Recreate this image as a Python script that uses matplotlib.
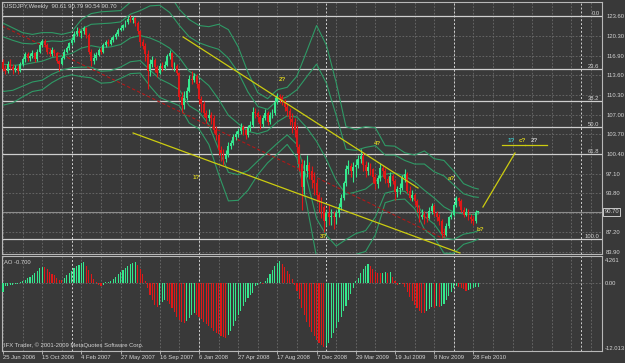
import numpy as np
import matplotlib.pyplot as plt
from matplotlib.transforms import blended_transform_factory

plt.rcParams['font.family'] = ['Liberation Sans', 'DejaVu Sans']

# USDJPY weekly bars, first bar = week of 25 Jun 2006
opens = [115.8, 114.7, 114.3, 115.6, 115.0, 114.5, 114.9, 114.4, 115.6, 116.3,
         117.2, 116.5, 116.9, 117.3, 116.3, 117.6, 118.7, 119.4, 118.8, 117.6,
         117.2, 117.8, 117.3, 116.0, 115.6, 116.6, 117.6, 118.2, 119.0, 119.6,
         120.6, 121.1, 120.7, 121.0, 121.5, 120.4, 117.6, 116.0, 116.6, 117.1,
         117.8, 117.6, 118.7, 119.2, 118.9, 119.6, 120.0, 120.5, 121.3, 121.6,
         122.0, 122.6, 123.1, 123.0, 123.2, 122.4, 121.0, 119.2, 118.6, 117.2,
         114.3, 115.5, 116.2, 115.0, 114.0, 115.2, 114.8, 115.4, 116.8, 117.4,
         115.0, 115.2, 114.0, 110.0, 108.7, 109.8, 111.0, 113.0, 112.9, 113.5,
         112.2, 109.6, 108.8, 107.2, 106.5, 107.0, 106.4, 104.5, 103.5, 101.0,
         100.5, 99.6, 100.3, 101.8, 102.3, 103.2, 103.7, 104.3, 105.0, 104.4,
         103.6, 104.7, 105.3, 107.4, 107.2, 106.6, 105.4, 106.5, 107.3, 105.8,
         106.9, 107.2, 109.2, 110.2, 109.9, 109.3, 108.3, 107.6, 106.2, 105.7,
         104.5, 101.5, 98.7, 94.8, 97.5, 98.5, 97.5, 96.0, 95.5, 93.5,
         92.5, 91.5, 89.2, 90.5, 89.8, 90.0, 89.8, 90.5, 91.5, 93.0,
         95.5, 97.8, 98.3, 97.5, 98.2, 98.5, 99.5, 100.0, 98.5, 97.6,
         98.2, 97.8, 96.5, 95.3, 96.3, 98.0, 97.6, 96.2, 95.5, 96.7,
         95.8, 94.0, 94.5, 94.7, 96.3, 97.0, 94.2, 93.0, 93.5, 92.5,
         91.5, 89.8, 90.2, 89.8, 89.7, 90.8, 91.6, 90.4, 89.8, 89.1,
         87.0, 86.7, 88.3, 89.8, 90.1, 91.8, 93.0, 92.4, 91.0, 90.2,
         90.6, 89.8, 89.5, 89.2, 90.61]
highs = [116.3, 115.3, 116.0, 116.4, 115.5, 115.3, 115.4, 115.9, 116.7, 117.5,
         117.6, 117.3, 117.8, 117.5, 118.1, 119.2, 119.8, 119.7, 119.0, 118.2,
         118.3, 118.1, 117.5, 116.2, 116.9, 118.0, 118.6, 119.3, 120.1, 121.0,
         121.7, 121.5, 121.3, 121.9, 121.8, 120.8, 118.0, 117.4, 117.6, 118.2,
         118.3, 119.1, 119.6, 119.8, 120.0, 120.4, 120.9, 121.6, 122.0, 122.3,
         123.0, 123.6, 123.7, 123.6, 123.4, 122.7, 121.3, 119.8, 119.0, 117.8,
         116.4, 116.8, 116.5, 115.3, 115.7, 115.9, 116.0, 117.2, 117.9, 117.6,
         115.8, 115.5, 114.2, 110.8, 111.0, 111.6, 113.7, 114.4, 114.0, 113.9,
         112.5, 110.2, 109.3, 107.8, 107.9, 107.5, 107.0, 105.1, 104.0, 101.8,
         101.2, 101.0, 102.4, 102.8, 103.8, 104.3, 104.8, 105.6, 105.3, 104.8,
         105.2, 105.9, 108.3, 108.1, 107.6, 106.9, 107.0, 107.9, 107.6, 107.5,
         108.0, 110.0, 110.7, 110.5, 110.3, 109.6, 108.9, 108.1, 107.2, 106.4,
         105.3, 102.1, 99.6, 99.3, 100.2, 99.0, 98.3, 97.3, 96.2, 94.0,
         93.1, 91.8, 91.0, 91.9, 91.2, 90.8, 91.0, 92.2, 93.6, 95.9,
         98.6, 99.4, 98.9, 99.0, 99.6, 100.3, 101.3, 100.7, 99.2, 99.0,
         98.9, 98.0, 97.0, 96.8, 98.9, 98.6, 98.0, 96.7, 97.3, 97.1,
         96.2, 95.0, 95.5, 96.9, 97.8, 97.3, 95.0, 94.3, 93.8, 92.8,
         91.8, 91.2, 90.8, 90.5, 91.5, 92.2, 91.9, 90.8, 90.3, 89.4,
         88.0, 88.8, 90.0, 90.6, 92.2, 93.3, 93.2, 92.8, 91.5, 91.3,
         91.1, 90.3, 90.0, 91.0, 90.79]
lows = [114.4, 113.9, 114.0, 114.7, 113.8, 114.1, 113.9, 114.2, 115.2, 115.9,
        116.1, 116.0, 116.5, 115.9, 116.1, 117.4, 118.4, 118.3, 117.2, 116.8,
        116.9, 116.9, 115.7, 114.4, 115.3, 116.4, 117.3, 117.9, 118.7, 119.3,
        120.3, 120.2, 119.9, 120.6, 119.9, 117.2, 115.2, 115.6, 116.2, 116.8,
        117.2, 117.4, 118.4, 118.5, 118.7, 119.3, 119.7, 120.2, 121.0, 121.3,
        121.7, 122.3, 122.6, 122.5, 121.9, 120.5, 118.6, 118.1, 116.0, 111.4,
        113.5, 115.0, 114.2, 113.3, 113.8, 114.3, 114.5, 115.2, 116.4, 114.7,
        114.3, 113.6, 109.4, 107.5, 108.0, 109.5, 110.8, 112.2, 112.5, 111.5,
        108.8, 107.5, 106.6, 105.6, 106.0, 105.5, 104.0, 102.8, 100.2, 99.2,
        98.5, 99.0, 99.9, 101.3, 101.9, 102.8, 103.2, 103.8, 103.6, 102.9,
        103.2, 104.3, 105.0, 106.5, 105.8, 104.6, 105.0, 106.1, 105.2, 105.5,
        106.4, 107.0, 108.8, 109.0, 108.7, 107.7, 106.7, 105.2, 104.0, 103.3,
        100.5, 97.5, 91.0, 93.6, 96.5, 96.2, 94.6, 93.5, 92.3, 90.6,
        89.7, 87.2, 88.3, 88.5, 88.4, 87.8, 88.6, 89.8, 91.0, 92.6,
        95.0, 97.0, 96.5, 95.6, 96.6, 98.0, 98.8, 97.6, 96.6, 96.9,
        96.9, 95.5, 94.5, 94.6, 95.8, 96.6, 95.5, 94.9, 95.0, 95.3,
        92.6, 93.2, 93.7, 94.3, 95.6, 93.8, 92.6, 92.5, 91.8, 90.7,
        88.9, 89.4, 88.6, 88.9, 89.4, 90.3, 89.9, 89.2, 88.4, 86.3,
        86.5, 86.6, 87.9, 89.4, 89.9, 91.5, 91.6, 90.6, 89.8, 89.9,
        89.3, 88.7, 88.4, 88.8, 90.54]
closes = [114.7, 114.3, 115.6, 115.0, 114.5, 114.9, 114.4, 115.6, 116.3, 117.2,
          116.5, 116.9, 117.3, 116.3, 117.6, 118.7, 119.4, 118.8, 117.6, 117.2,
          117.8, 117.3, 116.0, 115.6, 116.6, 117.6, 118.2, 119.0, 119.6, 120.6,
          121.1, 120.7, 121.0, 121.5, 120.4, 117.6, 116.0, 116.6, 117.1, 117.8,
          117.6, 118.7, 119.2, 118.9, 119.6, 120.0, 120.5, 121.3, 121.6, 122.0,
          122.6, 123.1, 123.0, 123.2, 122.4, 121.0, 119.2, 118.6, 117.2, 114.3,
          115.5, 116.2, 115.0, 114.0, 115.2, 114.8, 115.4, 116.8, 117.4, 115.0,
          115.2, 114.0, 110.0, 108.7, 109.8, 111.0, 113.0, 112.9, 113.5, 112.2,
          109.6, 108.8, 107.2, 106.5, 107.0, 106.4, 104.5, 103.5, 101.0, 100.5,
          99.6, 100.3, 101.8, 102.3, 103.2, 103.7, 104.3, 105.0, 104.4, 103.6,
          104.7, 105.3, 107.4, 107.2, 106.6, 105.4, 106.5, 107.3, 105.8, 106.9,
          107.2, 109.2, 110.2, 109.9, 109.3, 108.3, 107.6, 106.2, 105.7, 104.5,
          101.5, 98.7, 94.8, 97.5, 98.5, 97.5, 96.0, 95.5, 93.5, 92.5,
          91.5, 89.2, 90.5, 89.8, 90.0, 89.8, 90.5, 91.5, 93.0, 95.5,
          97.8, 98.3, 97.5, 98.2, 98.5, 99.5, 100.0, 98.5, 97.6, 98.2,
          97.8, 96.5, 95.3, 96.3, 98.0, 97.6, 96.2, 95.5, 96.7, 95.8,
          94.0, 94.5, 94.7, 96.3, 97.0, 94.2, 93.0, 93.5, 92.5, 91.5,
          89.8, 90.2, 89.8, 89.7, 90.8, 91.6, 90.4, 89.8, 89.1, 87.0,
          86.7, 88.3, 89.8, 90.1, 91.8, 93.0, 92.4, 91.0, 90.2, 90.6,
          89.8, 89.5, 89.2, 90.6, 90.70]

# Awesome Oscillator, one value per bar
ao = [-1.6, -0.6, -0.5, -0.4, -0.3, -0.2, -0.1, 0.1, 0.4, 0.6,
      0.9, 1.2, 1.5, 1.9, 2.3, 2.7, 3.0, 2.9, 2.5, 2.1,
      1.7, 1.4, 1.0, 0.6, 0.5, 0.9, 1.4, 1.8, 2.3, 2.7,
      3.1, 3.4, 3.7, 3.8, 3.2, 2.4, 1.6, 0.8, 0.1, -0.4,
      -0.6, -0.3, 0.1, 0.2, 0.4, 0.8, 1.2, 1.6, 2.0, 2.4,
      2.8, 3.2, 3.5, 3.7, 3.8, 3.4, 2.6, 1.6, 0.4, -1.0,
      -2.2, -3.2, -4.0, -4.4, -4.0, -3.6, -3.2, -3.4, -3.9, -4.6,
      -5.4, -6.2, -6.8, -7.2, -7.4, -7.0, -6.5, -6.0, -5.6, -5.9,
      -6.3, -6.7, -7.2, -7.6, -8.0, -8.4, -8.8, -9.2, -9.5, -9.8,
      -10.0, -10.2, -9.6, -8.8, -8.0, -7.0, -6.0, -5.1, -4.3, -3.5,
      -2.8, -2.2, -1.8, -0.6, -0.3, 0.2, -0.1, 0.3, 0.9, 1.6,
      2.4, 3.2, 3.7, 4.0, 3.6, 3.0, 2.3, 1.6, 0.7, -0.4,
      -1.5, -3.0, -4.6, -6.0, -7.2, -8.2, -9.0, -9.8, -10.5, -11.0,
      -11.5, -11.9, -11.6, -11.0, -10.2, -9.3, -8.3, -7.3, -6.3, -5.2,
      -4.2, -3.2, -2.1, -1.0, 0.3, 1.0, 1.8, 2.5, 3.1, 3.5,
      3.1, 2.5, 2.1, 1.9, 1.8, 1.9, 2.0, 1.8, 2.1, 1.2,
      0.3, -0.3, -0.1, -0.2, -0.8, -1.7, -2.6, -3.4, -4.1, -4.7,
      -5.2, -5.5, -5.6, -5.2, -4.8, -4.4, -4.6, -4.3, -4.5, -4.2,
      -3.8, -3.2, -2.4, -1.6, -1.0, -0.6, -0.8, -1.0, -1.2, -1.5,
      -1.3, -1.1, -1.0, -0.8, -0.7]

# Bollinger middle line and deviation, read every 4th bar (last at bar 194)
bb_mid = [115.5, 115.3, 115.4, 115.7, 116.0, 116.6, 116.9, 117.3, 118.2, 118.6,
          118.3, 118.4, 118.8, 119.9, 120.3, 119.9, 119.2, 118.2, 116.6, 114.3,
          113.3, 111.9, 109.6, 106.9, 105.5, 104.2, 103.8, 104.3, 105.8, 106.8,
          106.6, 104.8, 102.5, 99.5, 95.9, 93.6, 94.0, 94.5, 95.8, 97.0,
          97.2, 96.7, 95.7, 94.3, 93.0, 91.5, 90.6, 90.3, 90.2, 90.3]
bb_sd = [2.3, 2.1, 1.8, 1.6, 1.6, 1.4, 1.2, 1.2, 1.6, 1.8,
         2.0, 2.0, 1.9, 2.0, 2.1, 2.7, 3.1, 3.0, 2.7, 2.9,
         2.9, 3.3, 4.2, 4.8, 4.3, 3.3, 2.3, 1.8, 1.8, 1.6,
         2.3, 4.3, 6.5, 6.4, 5.5, 3.8, 3.5, 3.5, 3.0, 1.6,
         1.5, 1.3, 1.5, 2.2, 2.2, 2.6, 2.3, 1.7, 1.5, 1.4]

fib_high, fib_low = 123.60, 86.09
fib_levels = [0.0, 23.6, 38.2, 50.0, 61.8, 100.0]
price_ticks = [123.60, 120.30, 116.90, 113.60, 110.30, 107.00, 103.70,
               100.40, 97.10, 93.80, 87.20, 83.90]
last_price = 90.70
date_labels = ['25 Jun 2006', '15 Oct 2006', '4 Feb 2007', '27 May 2007',
               '16 Sep 2007', '6 Jan 2008', '27 Apr 2008', '17 Aug 2008',
               '7 Dec 2008', '29 Mar 2009', '19 Jul 2009', '8 Nov 2009',
               '28 Feb 2010']
year_bars = [28, 80, 132, 184, 236]

# hand-drawn objects (bar index, price)
upper_trend = ([73.5, 169.4], [120.07, 94.67])
lower_trend = ([53.1, 186.5], [103.92, 83.74])
red_trend = ([-0.4, 179.2], [121.92, 86.26])
target_leg = ([195.9, 209.0], [91.47, 100.56])
target_bar1 = ([203.7, 213.0], [101.9, 101.9])
target_bar2 = ([213.0, 222.0], [101.9, 101.9])
wave_text = ['1?', '2?', '3?', '4?', 'a?', 'b?', '1?', 'c?', '2?']
wave_x = [78.8, 113.9, 130.7, 152.7, 183.1, 194.7, 207.6, 212.1, 217.1]
wave_y = [96.5, 113.0, 86.5, 102.2, 96.3, 87.7, 102.6, 102.6, 102.7]
wave_col = ['#d8d020'] * 6 + ['#40c8c8', '#d8d020', '#c8c8c8']

BG = '#393939'
GRID = '#6c6c6c'
TXT = '#d4d4d4'
BULL = '#35e88e'
BEAR = '#e01818'
BAND = '#2f9a66'
YEL = '#cccc10'

fig = plt.figure(figsize=(6.25, 3.63), dpi=100, facecolor=BG)
ax = fig.add_axes([2 / 625, 1 - 254 / 363, 600 / 625, 252 / 363], facecolor=BG)
ax2 = fig.add_axes([2 / 625, 1 - 351 / 363, 600 / 625, 95 / 363], facecolor=BG)

xlim = (-0.41, 244.5)
x = np.arange(len(closes))
o = np.array(opens)
c = np.array(closes)
h = np.array(highs)
l = np.array(lows)

# grid
for a in (ax, ax2):
    for gx in np.arange(0, 245, 8):
        a.axvline(gx, color=GRID, lw=0.6, ls=(0, (2, 2)), zorder=0)
    for yb in year_bars:
        a.axvline(yb, color='#d0d0d0', lw=0.7, ls=(0, (2, 2)), zorder=0)
for p in price_ticks + [90.50]:
    ax.axhline(p, color=GRID, lw=0.6, ls=(0, (2, 2)), zorder=0)

# fibonacci levels
for lv in fib_levels:
    y = fib_high - lv / 100 * (fib_high - fib_low)
    ax.axhline(y, color='#cfcfcf', lw=0.9, zorder=1)
    ax.text(0.996, y, f'{lv:.1f}', transform=blended_transform_factory(ax.transAxes, ax.transData),
            ha='right', va='bottom', fontsize=4.2, color=TXT)
ax.axhline(last_price, color='#8c8c8c', lw=0.8, zorder=1)

# bollinger bands
bx = list(range(0, 193, 4)) + [194]
mid = np.array(bb_mid)
sd = np.array(bb_sd)
for k in (-3, -2, 0, 2, 3):
    ax.plot(bx, mid + k * sd, color=BAND, lw=0.8, zorder=2)

# candles
col = np.where(c >= o, BULL, BEAR)
ax.vlines(x, l, h, colors=col, lw=0.8, zorder=3)
ax.bar(x, np.maximum(np.abs(c - o), 0.12), bottom=np.minimum(o, c), width=0.8,
       color=col, lw=0, zorder=3)

# drawn lines
ax.plot(*red_trend, color='#b01818', lw=0.8, ls=(0, (3, 2)), zorder=2)
for tl in (upper_trend, lower_trend, target_leg, target_bar1, target_bar2):
    ax.plot(*tl, color=YEL, lw=0.9, zorder=4)
for t, tx, ty, tc in zip(wave_text, wave_x, wave_y, wave_col):
    ax.text(tx, ty, t, color=tc, fontsize=4.5, fontweight='bold', ha='center', va='center', zorder=5)

ax.set_xlim(*xlim)
ax.set_ylim(83.57, 125.95)
ax.set_xticks([])
ax.yaxis.tick_right()
ax.set_yticks(price_ticks)
ax.set_yticklabels([f'{p:.2f}' for p in price_ticks])
ax.tick_params(axis='y', length=0, pad=3, labelsize=4.2, labelcolor=TXT)
ax.text(1.004, last_price, f'{last_price:.2f}', transform=blended_transform_factory(ax.transAxes, ax.transData),
        ha='left', va='center', fontsize=4.2, color=TXT,
        bbox=dict(fc=BG, ec='#e0e0e0', lw=0.6, boxstyle='square,pad=0.25'))
ax.text(0.004, 0.992, 'USDJPY,Weekly  90.61 90.79 90.54 90.70', transform=ax.transAxes,
        ha='left', va='top', fontsize=4.3, color=TXT)

# AO histogram
aov = np.array(ao)
ao_col = [BULL if i == 0 or aov[i] > aov[i - 1] else BEAR for i in range(len(aov))]
ax2.bar(x, aov, width=0.45, color=ao_col, lw=0, zorder=3)
ax2.axhline(0, color=GRID, lw=0.6, ls=(0, (2, 2)), zorder=1)
ax2.set_xlim(*xlim)
ax2.set_ylim(-12.57, 4.99)
ax2.yaxis.tick_right()
ax2.set_yticks([4.261, 0.0, -12.013])
ax2.set_yticklabels(['4.261', '0.00', '-12.013'])
ax2.tick_params(axis='y', length=0, pad=2, labelsize=4.2, labelcolor=TXT)
ax2.set_xticks(np.arange(0, 193, 16))
ax2.set_xticklabels(date_labels)
for t in ax2.get_xticklabels():
    t.set_ha('left')
ax2.tick_params(axis='x', length=2, width=0.6, color='#c0c0c0', pad=1, labelsize=4.2, labelcolor=TXT)
ax2.text(0.004, 0.96, 'AO -0.700', transform=ax2.transAxes, ha='left', va='top', fontsize=4.2, color=TXT)
ax2.text(0.004, 0.03, 'IFX Trader, \u00a9 2001-2009 MetaQuotes Software Corp.', transform=ax2.transAxes,
         ha='left', va='bottom', fontsize=4.2, color=TXT)

for a in (ax, ax2):
    for s in a.spines.values():
        s.set_color('#b8b8b8')
        s.set_linewidth(0.8)

fig.savefig('out.png', dpi=100, facecolor=BG)
